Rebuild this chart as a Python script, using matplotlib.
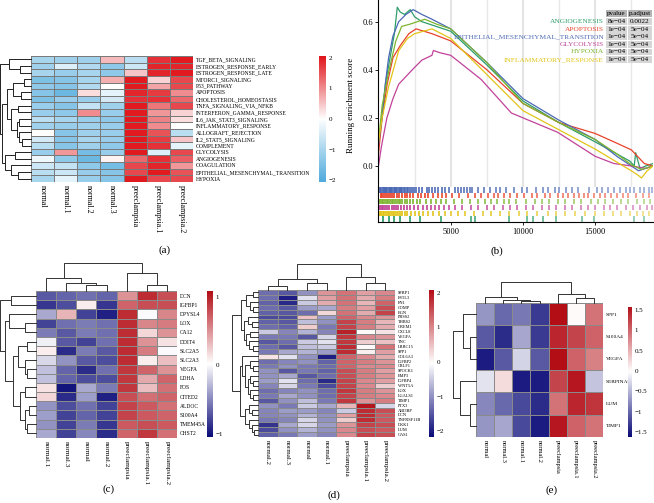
import numpy as np
import matplotlib
matplotlib.use("Agg")
import matplotlib.pyplot as plt
from matplotlib.colors import LinearSegmentedColormap
from matplotlib.patches import Rectangle

plt.rcParams['font.family'] = ['Liberation Serif', 'DejaVu Serif']

W, H = 654, 503

#=========================#
#  data                   #
#=========================#
# (a) GSVA hallmark heatmap
a_rows = ['TGF_BETA_SIGNALING', 'ESTROGEN_RESPONSE_EARLY', 'ESTROGEN_RESPONSE_LATE',
          'MTORC1_SIGNALING', 'P53_PATHWAY', 'APOPTOSIS', 'CHOLESTEROL_HOMEOSTASIS',
          'TNFA_SIGNALING_VIA_NFKB', 'INTERFERON_GAMMA_RESPONSE', 'IL6_JAK_STAT3_SIGNALING',
          'INFLAMMATORY_RESPONSE', 'ALLOGRAFT_REJECTION', 'IL2_STAT5_SIGNALING', 'COMPLEMENT',
          'GLYCOLYSIS', 'ANGIOGENESIS', 'COAGULATION', 'EPITHELIAL_MESENCHYMAL_TRANSITION', 'HYPOXIA']
a_cols = ['normal', 'normal.1', 'normal.2', 'normal.3', 'preeclampsia', 'preeclampsia.1', 'preeclampsia.2']
a_vals = [
    [-1.0, -1.1, -1.1, 0.6, -0.8, 1.8, 2.0],
    [-1.1, -0.4, -0.9, -1.3, -0.6, 1.9, 1.9],
    [-1.0, -1.2, -1.0, -1.3, 0.5, 1.9, 2.0],
    [-1.5, -1.4, -1.0, 0.7, 2.0, 0.4, 1.6],
    [-1.3, -1.4, -0.9, 0.0, 2.0, 0.8, 1.6],
    [-1.4, -1.7, 0.3, -0.3, 1.9, 1.7, 1.0],
    [-1.5, -1.2, -1.2, -0.5, 1.8, 1.8, 1.3],
    [-1.2, -1.4, -0.7, -1.1, 2.0, 1.2, 1.6],
    [-1.2, -1.3, 1.0, -1.2, 2.0, 0.9, 0.4],
    [-0.8, -1.0, -1.2, -1.3, 2.0, 1.1, 0.3],
    [-1.1, -1.2, -1.1, -1.2, 2.0, 1.0, 0.0],
    [0.0, -1.4, -1.1, -1.2, 2.0, 1.5, -0.8],
    [-0.5, -1.4, -1.0, -1.2, 2.0, 1.7, 0.5],
    [-0.8, -1.4, -1.1, -1.3, 2.0, 1.8, -0.3],
    [-1.2, 0.9, -1.6, -1.2, 2.0, -0.4, 1.6],
    [-0.2, -1.3, -1.7, 0.1, 1.3, 1.8, 1.4],
    [-0.6, -0.7, -1.3, -1.6, 1.6, 1.9, 0.9],
    [-0.8, -0.6, -1.2, -1.4, 1.6, 2.0, 1.5],
    [-1.0, -0.3, -1.2, -1.4, 2.0, 1.6, 1.6],
]
# dendrograms: [left, right, merge height], leaves = row/column index
a_tree = [[0, [1, 2, 0.37], 0.7],
          [[[[3, 4, 0.23], [5, 6, 0.31], 0.59],
            [[7, 8, 0.42], [[9, 10, 0.4], [11, [12, 13, 0.3], 0.38], 0.45], 0.64], 0.79],
           [[14, 15, 0.53], [16, [17, 18, 0.42], 0.64], 0.83], 0.92], 1.0]

# (b) GSEA running enrichment scores
gsea_names = ['ANGIOGENESIS', 'APOPTOSIS', 'EPITHELIAL_MESENCHYMAL_TRANSITION',
              'GLYCOLYSIS', 'HYPOXIA', 'INFLAMMATORY_RESPONSE']
gsea_pvalue = ['8e\u221204', '1e\u221204', '1e\u221204', '1e\u221204', '1e\u221204', '1e\u221204']
gsea_padj = ['0.0022', '5e\u221204', '5e\u221204', '5e\u221204', '5e\u221204', '5e\u221204']
gsea_colors = ['#2e9e6b', '#e8432b', '#4a68b4', '#c1429a', '#7db52f', '#e2c418']

angio_x = [0, 240, 500, 800, 1100, 1300, 1500, 1800, 2200, 2500, 3000, 4000, 5000, 7500,
           10000, 12500, 15000, 16500, 17400, 17700, 17800, 18100, 18500, 19000]
angio_y = [0.1, 0.2, 0.35, 0.45, 0.55, 0.66, 0.64, 0.63, 0.65, 0.62, 0.6, 0.58, 0.56, 0.42,
           0.27, 0.18, 0.1, 0.05, 0.02, 0.0, 0.055, -0.01, 0.0, 0.01]
apop_x = [0, 250, 600, 1000, 1500, 2100, 2600, 3700, 5000, 7500, 10000, 12500, 15000,
          16300, 17500, 18400, 19000]
apop_y = [0.05, 0.2, 0.34, 0.45, 0.5, 0.55, 0.57, 0.55, 0.52, 0.40, 0.26, 0.18, 0.135,
          0.10, 0.067, 0.01, 0.0]
emt_x = [0, 240, 470, 700, 1000, 1400, 1900, 2400, 3000, 3700, 5000, 7500, 10000, 12500,
         15000, 16500, 17500, 18000, 18500, 19000]
emt_y = [0.09, 0.2, 0.34, 0.45, 0.54, 0.6, 0.63, 0.65, 0.63, 0.61, 0.57, 0.43, 0.28, 0.19,
         0.11, 0.04, 0.0, -0.02, -0.01, 0.0]
gly_x = [0, 200, 580, 1000, 1400, 2500, 3000, 3700, 3800, 4300, 5000, 7100, 9200, 10000,
         12400, 15000, 16300, 17500, 18500, 19000]
gly_y = [0.0, 0.08, 0.2, 0.28, 0.34, 0.41, 0.44, 0.46, 0.48, 0.47, 0.46, 0.36, 0.22, 0.20,
         0.14, 0.04, 0.01, 0.0, -0.01, 0.0]
hyp_x = [0, 250, 700, 1200, 1600, 2200, 3200, 4000, 5000, 7500, 10000, 12500, 15000,
         16500, 17500, 18200, 19000]
hyp_y = [0.1, 0.25, 0.39, 0.52, 0.58, 0.59, 0.61, 0.59, 0.57, 0.43, 0.26, 0.18, 0.11,
         0.05, 0.005, -0.015, 0.0]
infl_x = [0, 250, 700, 1400, 2000, 2500, 3700, 5000, 7500, 10000, 12500, 15000, 16800,
          17500, 18000, 18200, 18600, 19000]
infl_y = [0.1, 0.2, 0.33, 0.48, 0.53, 0.55, 0.57, 0.53, 0.38, 0.23, 0.15, 0.07, 0.005,
          -0.02, -0.04, -0.05, -0.02, 0.0]

# gene-set hit positions in the ranked list (rug rows, top to bottom)
emt_hits = [120, 200, 290, 360, 450, 520, 610, 700, 780, 870, 950, 1040, 1130, 1220, 1300,
            1400, 1480, 1570, 1650, 1760, 1850, 1950, 2050, 2150, 2300, 2450, 2600, 2800,
            3000, 3350, 3500, 3700, 3900, 4150, 4400, 4600, 4850, 5300, 5500, 5700, 5900,
            6100, 6300, 6500, 6900, 7300, 7700, 8100, 8400, 8800, 9400, 9900, 10300, 10900,
            11400, 11700, 12200, 12500, 13000, 13400, 13800, 14600, 15100, 15500, 15900,
            16300, 16700, 17100, 17400, 17700, 18100, 18400, 18700, 18950]
apop_hits = [150, 260, 400, 520, 650, 800, 950, 1100, 1300, 1450, 1600, 1800, 1950, 2200,
             2400, 2700, 2950, 3200, 3450, 3800, 4100, 4400, 4700, 5100, 5600, 6200, 6700,
             7100, 7600, 8000, 8300, 8700, 9100, 9600, 10100, 10600, 11000, 11500, 11900,
             12400, 12800, 13100, 13500, 13900, 14200, 14500, 14900, 15300, 15700, 16100,
             16500, 16900, 17300, 17800, 18300, 18700]
hyp_hits = [130, 230, 330, 450, 560, 680, 790, 900, 1020, 1150, 1280, 1400, 1520, 1660,
            1800, 1950, 2150, 2400, 2650, 2900, 3300, 3600, 4000, 4300, 4700, 5200, 5800,
            6300, 6900, 7400, 7800, 8200, 8700, 9000, 9500, 10200, 10800, 11300, 11800,
            12400, 12900, 13500, 14000, 14700, 15200, 15700, 16200, 16800, 17300, 17900,
            18400, 18800]
gly_hits = [100, 210, 330, 470, 600, 760, 900, 1050, 1200, 1380, 1550, 1750, 1950, 2200,
            2450, 2750, 3050, 3350, 3600, 3900, 4200, 4550, 4900, 5300, 5800, 6400, 6900,
            7500, 8000, 8600, 9100, 9600, 10200, 10700, 11300, 11800, 12300, 12900, 13400,
            14000, 14500, 15000, 15600, 16000, 16500, 17100, 17600, 18100, 18600, 18900]
infl_hits = [110, 200, 300, 410, 520, 630, 750, 870, 980, 1100, 1230, 1370, 1500, 1650,
             1800, 2000, 2250, 2500, 2800, 3100, 3450, 3800, 4200, 4600, 5000, 5500, 6000,
             6600, 7200, 7800, 8400, 9000, 9700, 10300, 11000, 11700, 12300, 12900, 13600,
             14300, 15000, 15600, 16200, 16800, 17400, 17900, 18300, 18700]
angio_hits = [300, 700, 1100, 1500, 2200, 2900, 4300, 6400, 6700, 9000, 10300, 10700,
              11400, 12300, 14100, 14900, 17700, 18400]

# (c) hypoxia genes
c_rows = ['DCN', 'IGFBP1', 'DPYSL4', 'LOX', 'CA12', 'DDIT4', 'SLC2A5', 'SLC2A3', 'VEGFA',
          'LDHA', 'FOS', 'CITED2', 'ALDOC', 'S100A4', 'TMEM45A', 'CHST2']
c_cols = ['normal.1', 'normal.3', 'normal', 'normal.2', 'preeclampsia', 'preeclampsia.1', 'preeclampsia.2']
c_vals = [
    [-0.7, -0.65, -0.6, -0.65, 0.5, 0.95, 0.8],
    [-0.85, -0.75, 0.1, -0.85, 0.7, 0.8, 0.8],
    [-0.35, 0.35, -0.8, -0.95, 0.95, 0.0, 0.55],
    [-0.8, -0.6, -0.55, -0.6, 0.95, 0.55, 0.6],
    [-0.55, -0.7, -0.55, -0.6, 0.95, 0.2, 0.5],
    [-0.05, -0.7, -0.8, -0.6, 0.95, 0.5, 0.15],
    [0.1, -0.9, -0.55, -0.7, 0.95, 0.6, 0.0],
    [-0.15, -0.45, -0.7, -0.75, 0.95, 0.1, 0.3],
    [-0.25, -0.65, -0.9, -0.6, 0.9, 0.7, 0.5],
    [-0.25, -0.65, -0.75, -0.75, 0.9, 0.4, 0.7],
    [0.15, -1.0, -0.35, -0.55, 0.9, 0.3, 0.65],
    [0.2, -0.9, -0.4, -0.95, 0.8, 0.65, 0.7],
    [-0.45, -0.75, -0.6, -0.8, 0.85, 0.75, 0.65],
    [-0.4, -0.8, -0.65, -0.8, 0.85, 0.75, 0.7],
    [-0.45, -0.8, -0.55, -0.85, 0.75, 0.8, 0.75],
    [-0.35, -0.8, -0.5, -0.9, 0.7, 0.9, 0.65],
]
c_row_tree = [[0, 1, 0.7],
              [[2, [3, 4, 0.3], 0.75],
               [[[5, 6, 0.25], [7, [8, 9, 0.25], 0.3], 0.5],
                [[10, 11, 0.3], [[12, 13, 0.2], [14, 15, 0.25], 0.3], 0.45], 0.65], 0.85], 1.0]
c_col_tree = [[0, [1, [2, 3, 0.2], 0.29], 0.48], [4, [5, 6, 0.2], 0.63], 1.0]

# (d) EMT genes
d_rows = ['SFRP1', 'FSTL3', 'FN1', 'COMP', 'BGN', 'PRSS2', 'THBS2', 'GREM1', 'CXCL8', 'VEGFA',
          'TNC', 'LRRC15', 'SPP1', 'COL6A3', 'IGFBP2', 'CRLF1', 'SPOCK1', 'EMP3', 'IGFBP4',
          'WNT5A', 'LOX', 'LGALS1', 'TIMP1', 'PTX3', 'ABI3BP', 'DCN', 'TNFRSF11B', 'DKK1',
          'LUM', 'GAS1']
d_cols = ['normal.2', 'normal.3', 'normal', 'normal.1', 'preeclampsia', 'preeclampsia.1', 'preeclampsia.2']
d_vals = [
    [-1.3, -1.5, -1.0, 0.9, 1.2, 0.8, 1.0],
    [-1.3, -2.0, -0.3, 0.8, 1.2, 0.7, 1.1],
    [-1.4, -1.9, -0.5, 0.7, 1.2, 0.6, 1.3],
    [-1.3, -1.5, -0.9, -0.8, 1.1, 0.8, 1.5],
    [-1.4, -1.5, -1.3, 0.3, 1.2, 0.7, 1.6],
    [-1.6, -1.6, 0.5, -0.9, 1.3, 1.0, 0.9],
    [-1.4, -1.5, -0.6, -1.0, 1.6, 1.1, 0.6],
    [-1.3, -1.4, 0.4, -1.2, 1.6, 1.1, 0.7],
    [-0.5, -1.1, -0.7, -1.1, 1.9, 0.0, 0.2],
    [-1.2, -1.2, -1.5, -0.4, 1.7, 1.0, 0.9],
    [-1.5, -1.3, -0.5, -0.3, 1.7, 0.4, 0.5],
    [-1.3, -1.5, -0.6, -0.5, 1.8, 0.0, 1.2],
    [-1.2, -0.8, -0.7, -0.9, 1.8, 0.1, 0.8],
    [0.2, -0.3, -1.0, -2.0, 1.3, 1.0, 0.7],
    [-1.3, -1.1, -1.0, -1.4, 1.3, 1.1, 0.9],
    [-1.2, -1.0, -1.2, -1.3, 1.3, 1.0, 1.0],
    [-1.0, -1.5, -1.2, -1.4, 1.5, 1.1, 0.8],
    [-1.0, -0.8, -1.5, -1.3, 1.5, 1.1, 0.9],
    [-0.9, -0.3, -1.3, -1.9, 1.6, 1.0, 0.8],
    [-1.1, -0.4, -1.2, -1.6, 1.6, 1.0, 0.4],
    [-1.3, -1.1, -1.0, -1.3, 1.7, 1.1, 0.9],
    [-1.2, -0.8, -1.0, -1.3, 1.6, 1.1, 1.0],
    [-1.5, -1.0, -0.6, -1.2, 1.7, 0.9, 1.1],
    [-1.0, -1.2, -0.5, -0.8, 0.6, 2.0, -0.4],
    [-1.1, -0.9, -0.9, -1.1, -0.5, 1.8, 1.5],
    [-1.1, -1.0, -0.7, -1.0, 0.8, 1.8, 1.4],
    [-1.2, -1.1, -0.4, -1.0, 0.4, 1.8, 1.4],
    [-1.8, -0.8, -0.4, -0.9, 0.9, 1.6, 1.5],
    [-1.6, -1.0, -0.7, -1.0, 1.0, 1.5, 1.4],
    [-1.4, -1.2, -0.9, -1.1, 1.0, 1.6, 1.5],
]
d_row_tree = [[[[0, 1, 0.2], [2, [3, 4, 0.2], 0.3], 0.45],
               [[5, [6, 7, 0.25], 0.4], [[8, 9, 0.3], [10, [11, 12, 0.2], 0.35], 0.45], 0.55], 0.65],
              [[13, [[14, [15, 16, 0.2], 0.3], [[17, [18, 19, 0.2], 0.3], [20, [21, 22, 0.2], 0.3], 0.4], 0.5], 0.6],
               [[23, [24, 25, 0.25], 0.35], [26, [27, [28, 29, 0.15], 0.25], 0.35], 0.5], 0.7], 1.0]
d_col_tree = [[[0, 1, 0.15], [2, 3, 0.28], 0.41], [4, [5, 6, 0.26], 0.51], 1.0]

# (e) hub genes
e_rows = ['SPP1', 'S100A4', 'VEGFA', 'SERPINA5', 'LUM', 'TIMP1']
e_cols = ['normal', 'normal.3', 'normal.1', 'normal.2', 'preeclampsia', 'preeclampsia.1', 'preeclampsia.2']
e_vals = [
    [-0.7, -1.0, -0.9, -1.3, 1.6, 0.0, 0.9],
    [-1.1, -1.4, -0.6, -1.3, 1.4, 1.2, 1.0],
    [-1.5, -1.1, -0.3, -1.1, 1.6, 1.0, 0.8],
    [-0.2, 0.2, -1.5, -1.5, 1.2, 1.5, -0.4],
    [-0.8, -1.0, -1.2, -1.4, 0.9, 1.4, 1.3],
    [-0.7, -0.6, -1.2, -1.5, 1.5, 1.0, 0.9],
]
e_row_tree = [[0, [1, 2, 0.24], 0.56], [3, [4, 5, 0.24], 0.68], 1.0]
e_col_tree = [[0, [1, [2, 3, 0.08], 0.16], 0.29], [4, [5, 6, 0.24], 0.44], 1.0]


#=========================#
#  helpers                #
#=========================#
def box(x0, y0, x1, y1):
    # pixel box (top-left origin) -> figure fraction
    return [x0 / W, 1 - y1 / H, (x1 - x0) / W, (y1 - y0) / H]


def walk(node, segs):
    if isinstance(node, int):
        return node + 0.5, 0.0
    p1, h1 = walk(node[0], segs)
    p2, h2 = walk(node[1], segs)
    h = node[2]
    segs.append(([p1, p1, p2, p2], [h1, h, h, h2]))
    return (p1 + p2) / 2, h


def draw_tree(ax, tree, n, orient, color='#333333', lw=0.7):
    segs = []
    walk(tree, segs)
    for pos, hts in segs:
        if orient == 'left':
            ax.plot(hts, pos, color=color, lw=lw, clip_on=False)
        else:
            ax.plot(pos, hts, color=color, lw=lw, clip_on=False)
    if orient == 'left':
        ax.set_ylim(n, 0)
        ax.set_xlim(1.0, 0)
    else:
        ax.set_xlim(0, n)
        ax.set_ylim(0, 1.0)
    ax.axis('off')


def heat(ax, vals, rows, cols, cmap, vmin, vmax, fs_row, fs_col, edge='#8a8a8a'):
    ax.pcolormesh(np.array(vals), cmap=cmap, vmin=vmin, vmax=vmax, edgecolors=edge, linewidth=0.5)
    ax.set_xlim(0, len(cols))
    ax.set_ylim(len(rows), 0)
    ax.set_yticks(np.arange(len(rows)) + 0.5, rows, fontsize=fs_row)
    ax.yaxis.tick_right()
    ax.set_xticks(np.arange(len(cols)) + 0.5, cols, fontsize=fs_col, rotation=270)
    ax.tick_params(length=0, pad=2)
    for s in ax.spines.values():
        s.set_visible(False)


def cbar(cax, cmap, vmin, vmax, ticks, labels, fs=5):
    grad = np.linspace(vmin, vmax, 256).reshape(-1, 1)
    cax.imshow(grad, aspect='auto', cmap=cmap, vmin=vmin, vmax=vmax, origin='lower',
               extent=[0, 1, vmin, vmax])
    cax.set_xticks([])
    cax.yaxis.tick_right()
    cax.set_yticks(ticks, labels, fontsize=fs)
    cax.tick_params(length=0, pad=2)
    for s in cax.spines.values():
        s.set_visible(False)


cmap_a = LinearSegmentedColormap.from_list('a', ['#4eaadc', '#ffffff', '#e0141b'])
cmap_nr = LinearSegmentedColormap.from_list('nr', ['#0a0a78', '#ffffff', '#b30d16'])

fig = plt.figure(figsize=(W / 100, H / 100), dpi=100)

#=========================#
#  (a)                    #
#=========================#
ax = fig.add_axes(box(31, 56, 193, 182))
heat(ax, a_vals, a_rows, a_cols, cmap_a, -2.05, 2.05, 4.1, 5.8, edge='#7a7a7a')
draw_tree(fig.add_axes(box(0, 56, 31, 182)), a_tree, len(a_rows), 'left', color='#222222')
cbar(fig.add_axes(box(319, 56, 326, 182)), cmap_a, -2.05, 2.05,
     [2, 1, 0, -1, -2], ['2', '1', '0', '\u22121', '\u22122'])

#=========================#
#  (b)                    #
#=========================#
axb = fig.add_axes(box(378.5, 0, 653, 187))
curves = [(angio_x, angio_y), (apop_x, apop_y), (emt_x, emt_y),
          (gly_x, gly_y), (hyp_x, hyp_y), (infl_x, infl_y)]
for (xs, ys), col in zip(curves, gsea_colors):
    axb.plot(xs, ys, color=col, lw=0.9)
axb.set_xlim(0, 19000)
axb.set_ylim(-0.0875, 0.69)
axb.set_yticks([0, 0.2, 0.4, 0.6], ['0.0', '0.2', '0.4', '0.6'], fontsize=6)
axb.set_xticks([5000, 10000, 15000])
axb.set_xticks([2500, 7500, 12500, 17500], minor=True)
axb.grid(which='major', axis='x', color='#dcdcdc', lw=1.1)
axb.grid(which='minor', axis='x', color='#e8e8e8', lw=1.0)
axb.set_axisbelow(True)
axb.tick_params(axis='x', which='both', length=0, labelbottom=False)
axb.tick_params(axis='y', length=2, width=0.6, pad=2)
for s in ['top', 'right', 'bottom']:
    axb.spines[s].set_visible(False)
axb.spines['left'].set_linewidth(0.8)

axr = fig.add_axes(box(378.5, 187, 653, 222))
rug_sets = [emt_hits, apop_hits, hyp_hits, gly_hits, infl_hits, angio_hits]
rug_cols = [gsea_colors[2], gsea_colors[1], gsea_colors[4], gsea_colors[3], gsea_colors[5], gsea_colors[0]]
for i, (hits, col) in enumerate(zip(rug_sets, rug_cols)):
    row = 5 - i
    rgba = [matplotlib.colors.to_rgba(col, 1.0 - 0.5 * h / 19000) for h in hits]
    axr.vlines(hits, row + 0.05, row + 0.95, colors=rgba, lw=1.3)
axr.set_xlim(0, 19000)
axr.set_ylim(0, 6)
axr.set_yticks([])
axr.set_xticks([5000, 10000, 15000], ['5000', '10000', '15000'], fontsize=6)
axr.tick_params(axis='x', length=2, width=0.6, pad=2)
for s in ['top', 'right']:
    axr.spines[s].set_visible(False)
axr.spines['left'].set_linewidth(0.8)
axr.spines['bottom'].set_linewidth(0.8)

#=========================#
#  (c) (d) (e)            #
#=========================#
ax = fig.add_axes(box(36, 291, 177, 438))
heat(ax, c_vals, c_rows, c_cols, cmap_nr, -1.05, 1.09, 4.0, 5.2)
draw_tree(fig.add_axes(box(0, 291, 36, 438)), c_row_tree, len(c_rows), 'left')
draw_tree(fig.add_axes(box(36, 263, 177, 291)), c_col_tree, len(c_cols), 'top')
cbar(fig.add_axes(box(207, 291, 213, 437)), cmap_nr, -1.05, 1.09,
     [1, 0, -1], ['1', '0', '\u22121'])

ax = fig.add_axes(box(258, 290, 395, 437))
heat(ax, d_vals, d_rows, d_cols, cmap_nr, -2.17, 2.08, 3.2, 5.0)
draw_tree(fig.add_axes(box(232, 290, 258, 437)), d_row_tree, len(d_rows), 'left')
draw_tree(fig.add_axes(box(258, 264, 395, 290)), d_col_tree, len(d_cols), 'top')
cbar(fig.add_axes(box(429, 290, 434, 437)), cmap_nr, -2.17, 2.08,
     [2, 1, 0, -1, -2], ['2', '1', '0', '\u22121', '\u22122'])

ax = fig.add_axes(box(476, 303, 603, 437))
heat(ax, e_vals, e_rows, e_cols, cmap_nr, -1.62, 1.57, 3.9, 4.6)
draw_tree(fig.add_axes(box(453, 303, 476, 437)), e_row_tree, len(e_rows), 'left')
draw_tree(fig.add_axes(box(476, 282, 603, 303)), e_col_tree, len(e_cols), 'top')
cbar(fig.add_axes(box(628, 307, 632, 437)), cmap_nr, -1.62, 1.57,
     [1.5, 1, 0.5, 0, -0.5, -1, -1.5], ['1.5', '1', '0.5', '0', '\u22120.5', '\u22121', '\u22121.5'])

#=========================#
#  overlay text + table   #
#=========================#
ov = fig.add_axes([0, 0, 1, 1], facecolor='none')
ov.set_xlim(0, W)
ov.set_ylim(H, 0)
ov.axis('off')

ov.text(351, 105, 'Running enrichment score', rotation=90, ha='center', va='center', fontsize=6.5)

# p-value table
ov.add_patch(Rectangle((606, 9.8), 21, 7, color='#b4b4b4', lw=0))
ov.add_patch(Rectangle((627.8, 9.8), 24.5, 7, color='#b4b4b4', lw=0))
ov.text(616.5, 13.4, 'pvalue', ha='center', va='center', fontsize=5)
ov.text(640, 13.4, 'p.adjust', ha='center', va='center', fontsize=5)
for i, (nm, pv, pa, col) in enumerate(zip(gsea_names, gsea_pvalue, gsea_padj, gsea_colors)):
    yc = 21.5 + i * 7.6
    ov.add_patch(Rectangle((606, yc - 3.4), 21, 6.8, color='#d6d6d6', lw=0))
    ov.add_patch(Rectangle((627.8, yc - 3.4), 24.5, 6.8, color='#d6d6d6', lw=0))
    ov.text(604, yc, nm, ha='right', va='center', fontsize=5.3, color=col)
    ov.text(616.5, yc, pv, ha='center', va='center', fontsize=5.2)
    ov.text(640, yc, pa, ha='center', va='center', fontsize=5.2)

for lab, x, y in [('(a)', 165, 250), ('(b)', 497, 251), ('(c)', 109, 489),
                  ('(d)', 334, 495), ('(e)', 552, 490)]:
    ov.text(x, y, lab, ha='center', va='center', fontsize=8)

fig.savefig('out.png', dpi=100)
